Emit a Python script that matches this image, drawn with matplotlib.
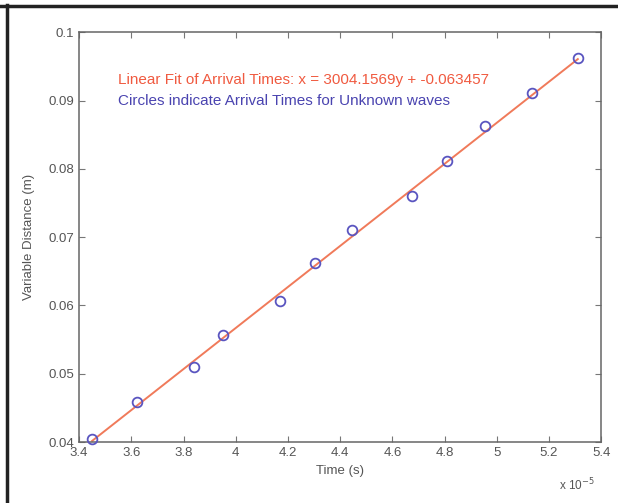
import matplotlib.pyplot as plt
from matplotlib.lines import Line2D
import numpy as np

plt.rcParams['font.family'] = ['Liberation Sans', 'DejaVu Sans']

# arrival times (x 1e-5 s) and distances (m)
times = [3.45, 3.62, 3.84, 3.95, 4.17, 4.305, 4.445, 4.675, 4.81, 4.955, 5.135, 5.31]
dist = [0.0405, 0.0459, 0.0510, 0.0557, 0.0606, 0.0662, 0.0710, 0.0760, 0.0811, 0.0862, 0.0911, 0.0962]

slope = 3004.1569
intercept = -0.063457

xticks = [3.4, 3.6, 3.8, 4, 4.2, 4.4, 4.6, 4.8, 5, 5.2, 5.4]
xticklabels = ['3.4', '3.6', '3.8', '4', '4.2', '4.4', '4.6', '4.8', '5', '5.2', '5.4']
yticks = [0.04, 0.05, 0.06, 0.07, 0.08, 0.09, 0.1]
yticklabels = ['0.04', '0.05', '0.06', '0.07', '0.08', '0.09', '0.1']

txt_col = '#555555'

fig = plt.figure(figsize=(6.18, 5.03), dpi=100)
ax = fig.add_axes([0.128, 0.121, 0.845, 0.815])

# fit line over the range of the measured times
t = np.array([times[0], times[-1]])
ax.plot(t, slope * t * 1e-5 + intercept, color='#f07a5a', linewidth=1.4, zorder=2)
ax.plot(times, dist, 'o', mfc='none', mec='#5a55c0', mew=1.3, ms=7, zorder=3,
        clip_on=False)

ax.set_xlim(3.4, 5.4)
ax.set_ylim(0.04, 0.1)
ax.set_xticks(xticks)
ax.set_xticklabels(xticklabels)
ax.set_yticks(yticks)
ax.set_yticklabels(yticklabels)
ax.tick_params(direction='in', top=True, right=True, length=4, width=0.8,
               colors='#777777', labelcolor=txt_col, labelsize=9.5)
for s in ax.spines.values():
    s.set_color('#666666')
    s.set_linewidth(1.1)

ax.set_xlabel('Time (s)', color=txt_col, fontsize=9.5, labelpad=4)
ax.set_ylabel('Variable Distance (m)', color=txt_col, fontsize=9.5, labelpad=10)

fig.text(0.905, 0.025, r'x 10$^{-5}$', color=txt_col, fontsize=8.5)

ax.text(3.55, 0.0930, 'Linear Fit of Arrival Times: x = 3004.1569y + -0.063457',
        color='#f05a40', fontsize=11, va='center')
ax.text(3.55, 0.0899, 'Circles indicate Arrival Times for Unknown waves',
        color='#4a44b0', fontsize=11, va='center')

# scanned-page frame: top and left edges
fig.add_artist(Line2D([0.0, 1.0], [0.988, 0.988], color='#222222', linewidth=2.5,
                      transform=fig.transFigure))
fig.add_artist(Line2D([0.011, 0.011], [0.0, 0.99], color='#222222', linewidth=2.5,
                      transform=fig.transFigure))

fig.savefig('out.png', dpi=100)
